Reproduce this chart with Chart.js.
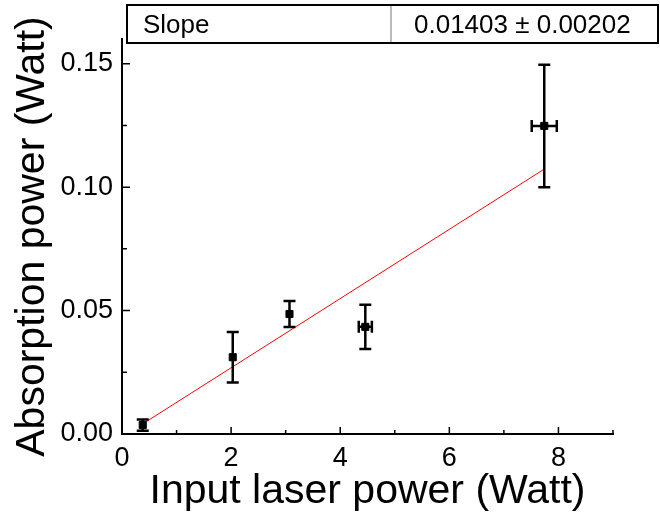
<!DOCTYPE html>
<html>
<head>
<meta charset="utf-8">
<script src="https://cdn.jsdelivr.net/npm/chart.js@4"></script>
<style>
  body { margin: 0; background: #fff; }
  canvas { display: block; }
</style>
</head>
<body>
<canvas id="chart" width="660" height="512"></canvas>
<script>
// measured points (Watt)
const inputPower = [0.38, 2.03, 3.07, 4.46, 7.74];
const inputErr = [0.05, 0.03, 0.03, 0.12, 0.23];
const absPower = [0.0036, 0.0311, 0.0486, 0.0434, 0.1248];
const absErr = [0.0023, 0.0102, 0.0053, 0.0090, 0.0248];

// linear fit, drawn between first and last point
const fitX = [0.38, 7.74];
const fitY = [0.0041, 0.1073];

const xMajor = [0, 2, 4, 6, 8];
const xMinor = [1, 3, 5, 7];
const yMajor = [0, 0.05, 0.10, 0.15];
const yMinor = [0.025, 0.075, 0.125];

const tableLabel = 'Slope';
const tableValue = '0.01403 \u00b1 0.00202';

const FONT = "'Liberation Sans', Arial, sans-serif";

const errorBars = {
    id: 'errorBars',
    afterDatasetsDraw(chart) {
        const xs = chart.scales.x, ys = chart.scales.y;
        const ctx = chart.ctx;
        ctx.save();
        ctx.strokeStyle = '#000';
        ctx.lineWidth = 2.5;
        inputPower.forEach((xv, i) => {
            const px = xs.getPixelForValue(xv);
            const py = ys.getPixelForValue(absPower[i]);
            const top = ys.getPixelForValue(absPower[i] + absErr[i]);
            const bot = ys.getPixelForValue(absPower[i] - absErr[i]);
            const l = xs.getPixelForValue(xv - inputErr[i]);
            const r = xs.getPixelForValue(xv + inputErr[i]);
            ctx.beginPath();
            ctx.moveTo(px, top); ctx.lineTo(px, bot);
            ctx.moveTo(px - 6, top); ctx.lineTo(px + 6, top);
            ctx.moveTo(px - 6, bot); ctx.lineTo(px + 6, bot);
            ctx.moveTo(l, py); ctx.lineTo(r, py);
            if (r - l > 8) {
                ctx.moveTo(l, py - 6); ctx.lineTo(l, py + 6);
                ctx.moveTo(r, py - 6); ctx.lineTo(r, py + 6);
            }
            ctx.stroke();
        });
        ctx.restore();
    }
};

const axisTicks = {
    id: 'axisTicks',
    afterDraw(chart) {
        const xs = chart.scales.x, ys = chart.scales.y;
        const ctx = chart.ctx;
        const a = chart.chartArea;
        ctx.save();
        ctx.strokeStyle = '#000';
        ctx.lineWidth = 1.5;
        ctx.beginPath();
        xMajor.forEach(v => { const p = xs.getPixelForValue(v); ctx.moveTo(p, a.bottom); ctx.lineTo(p, a.bottom - 7); });
        xMinor.forEach(v => { const p = xs.getPixelForValue(v); ctx.moveTo(p, a.bottom); ctx.lineTo(p, a.bottom - 4); });
        yMajor.forEach(v => { const p = ys.getPixelForValue(v); ctx.moveTo(a.left, p); ctx.lineTo(a.left + 8, p); });
        yMinor.forEach(v => { const p = ys.getPixelForValue(v); ctx.moveTo(a.left, p); ctx.lineTo(a.left + 5, p); });
        ctx.moveTo(xs.right, a.bottom); ctx.lineTo(xs.right, a.bottom - 4);
        ctx.stroke();

        // parameter table
        const bx = 127, by = 5, bw = 531, bh = 38, split = 391;
        ctx.fillStyle = '#fff';
        ctx.fillRect(bx, by, bw, bh);
        ctx.strokeStyle = '#000';
        ctx.lineWidth = 2;
        ctx.strokeRect(bx, by, bw, bh);
        ctx.strokeStyle = '#bbb';
        ctx.beginPath();
        ctx.moveTo(split, by + 1); ctx.lineTo(split, by + bh - 1);
        ctx.stroke();
        ctx.fillStyle = '#000';
        ctx.font = '26px ' + FONT;
        ctx.textBaseline = 'alphabetic';
        ctx.fillText(tableLabel, 143, 33);
        ctx.fillText(tableValue, 414, 33);
        ctx.restore();
    }
};

new Chart(document.getElementById('chart'), {
    type: 'scatter',
    data: {
        datasets: [{
            label: 'data',
            data: inputPower.map((x, i) => ({ x: x, y: absPower[i] })),
            backgroundColor: '#000',
            borderColor: '#000',
            pointStyle: 'rect',
            pointRadius: 5,
            order: 1
        }, {
            label: 'fit',
            type: 'line',
            data: fitX.map((x, i) => ({ x: x, y: fitY[i] })),
            borderColor: '#ff0000',
            borderWidth: 1,
            pointRadius: 0,
            fill: false,
            order: 2
        }]
    },
    options: {
        responsive: false,
        animation: false,
        devicePixelRatio: 1,
        layout: { padding: { top: 39, right: 47, left: 0, bottom: 0 } },
        plugins: { legend: { display: false }, tooltip: { enabled: false } },
        scales: {
            x: {
                type: 'linear',
                min: 0, max: 9,
                afterFit: s => { s.height = 78; },
                grid: { display: false },
                border: { display: true, color: '#000', width: 2 },
                ticks: {
                    stepSize: 2, includeBounds: false, padding: 0,
                    color: '#000', font: { family: FONT, size: 27 }
                },
                title: {
                    display: true, text: 'Input laser power (Watt)',
                    color: '#000', font: { family: FONT, size: 41, lineHeight: 1 },
                    padding: { top: 0, bottom: 0 }
                }
            },
            y: {
                min: 0, max: 0.16,
                afterFit: s => { s.width = 122; },
                grid: { display: false },
                border: { display: true, color: '#000', width: 2 },
                ticks: {
                    stepSize: 0.05, includeBounds: false, padding: 1,
                    color: '#000', font: { family: FONT, size: 27 },
                    callback: v => v.toFixed(2)
                },
                title: {
                    display: true, text: 'Absorption power (Watt)',
                    color: '#000', font: { family: FONT, size: 41, lineHeight: 1 },
                    padding: { top: 12, bottom: 0 }
                }
            }
        }
    },
    plugins: [errorBars, axisTicks]
});
</script>
</body>
</html>
